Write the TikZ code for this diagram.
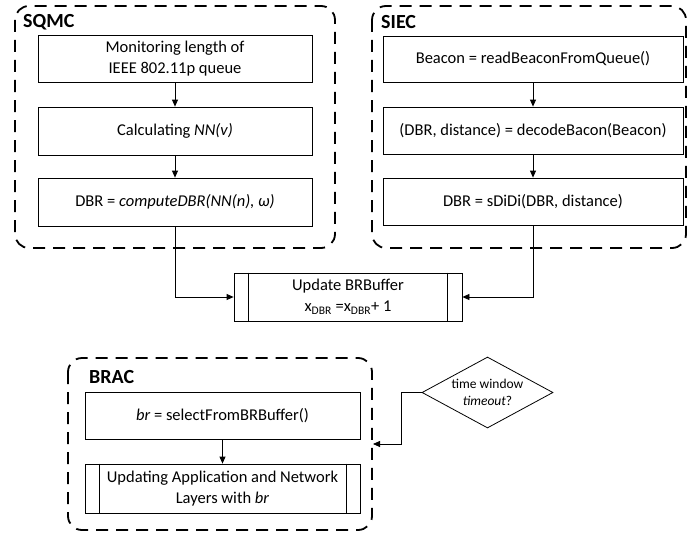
\documentclass[tikz,border=0pt]{standalone}
\usepackage{fontspec}
\setmainfont{Carlito}
\usetikzlibrary{shapes.geometric,arrows.meta}
\begin{document}
\begin{tikzpicture}[x=1pt,y=-1pt,
  grp/.style={draw, line width=1.8pt, dash pattern=on 12pt off 8pt, rounded corners=14pt},
  box/.style={draw, line width=0.8pt, align=center, font=\fontsize{16.5}{21}\selectfont, inner sep=0pt},
  grplabel/.style={font=\fontsize{20}{22}\selectfont\bfseries, anchor=west, inner sep=0pt},
  arr/.style={-{Triangle[length=7pt,width=6pt]}, line width=0.8pt}]
\useasboundingbox (0,0) rectangle (688,535);
% containers
\draw[grp] (15,6) rectangle (335,248);
\draw[grp] (372,6) rectangle (686,248);
\draw[grp] (68,358) rectangle (372,530);
\node[grplabel] (lsqmc) at (23,22) {SQMC};
\node[grplabel] (lsiec) at (381,22) {SIEC};
\node[grplabel] (lbrac) at (89,377) {BRAC};
% SQMC boxes
\node[box, minimum width=274pt, minimum height=47pt] (q1) at (175,58.5) {Monitoring length of\\IEEE 802.11p queue};
\node[box, minimum width=274pt, minimum height=48pt] (q2) at (175,131) {Calculating \textit{NN(v)}};
\node[box, minimum width=274pt, minimum height=48pt] (q3) at (175,202) {DBR = \textit{computeDBR(NN(n), ω)}};
% SIEC boxes
\node[box, minimum width=300pt, minimum height=46pt] (s1) at (533,59) {Beacon = readBeaconFromQueue()};
\node[box, minimum width=300pt, minimum height=47pt] (s2) at (533,130.5) {(DBR, distance) = decodeBacon(Beacon)};
\node[box, minimum width=300pt, minimum height=47pt] (s3) at (533,201.5) {DBR = sDiDi(DBR, distance)};
% update
\node[box, minimum width=228pt, minimum height=48pt] (up) at (348,297) {Update BRBuffer\\ x\textsubscript{DBR} =x\textsubscript{DBR}+ 1};
\draw[line width=0.8pt] ([xshift=15pt]up.north west) -- ([xshift=15pt]up.south west)
  ([xshift=-15pt]up.north east) -- ([xshift=-15pt]up.south east);
% BRAC boxes
\node[box, minimum width=275pt, minimum height=47pt] (b1) at (222.5,415.5) {\textit{br} = selectFromBRBuffer()};
\node[box, minimum width=275pt, minimum height=49pt] (b2) at (222.5,488.5) {Updating Application and Network\\Layers with \textit{br}};
\draw[line width=0.8pt] ([xshift=15pt]b2.north west) -- ([xshift=15pt]b2.south west)
  ([xshift=-14pt]b2.north east) -- ([xshift=-14pt]b2.south east);
% diamond
\node[draw, line width=0.8pt, diamond, aspect=1.85, minimum width=131pt, minimum height=71pt, inner sep=0pt, align=center, font=\fontsize{13.5}{17}\selectfont] (tw) at (487.5,392.5) {time window\\\textit{timeout}?};
\coordinate (brin) at (373,444);
% arrows
\draw[arr] (q1) -- (q2);
\draw[arr] (q2) -- (q3);
\draw[arr] (s1) -- (s2);
\draw[arr] (s2) -- (s3);
\draw[arr] (b1) -- (b2);
\draw[arr] (q3.south) |- (up.west);
\draw[arr] (s3.south) |- (up.east);
\draw[arr] (tw.west) -- ++(-20,0) |- (brin);
\end{tikzpicture}
\end{document}
